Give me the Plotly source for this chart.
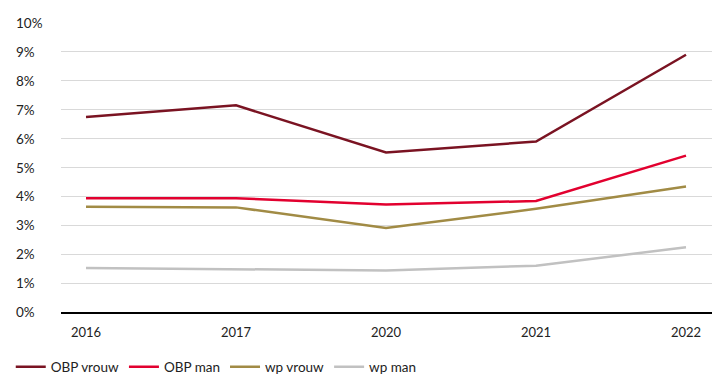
import plotly.graph_objects as go

years = ["2016", "2017", "2020", "2021", "2022"]
obp_vrouw = [6.75, 7.15, 5.52, 5.90, 8.90]
obp_man = [3.94, 3.94, 3.72, 3.84, 5.41]
wp_vrouw = [3.64, 3.62, 2.91, 3.57, 4.34]
wp_man = [1.52, 1.49, 1.44, 1.60, 2.24]
y_ticks = [0, 1, 2, 3, 4, 5, 6, 7, 8, 9, 10]
y_tick_labels = [f"{v}%" for v in y_ticks]

series = [
    ("OBP vrouw", obp_vrouw, "#7a1322"),
    ("OBP man", obp_man, "#e2002f"),
    ("wp vrouw", wp_vrouw, "#a18b45"),
    ("wp man", wp_man, "#c1c1c1"),
]

FONT = "Lato"
fig = go.Figure()
for name, vals, color in series:
    fig.add_trace(go.Scatter(
        x=list(range(len(years))), y=vals, name=name, mode="lines",
        line=dict(color=color, width=2.5),
    ))

annotations = []
for v, lab in zip(y_ticks, y_tick_labels):
    annotations.append(dict(
        x=-0.072, xref="paper", y=v, yref="y", text=lab, showarrow=False,
        xanchor="left", yanchor="middle",
        font=dict(family=FONT, size=13.5, color="#222222"),
    ))

fig.update_layout(
    width=717, height=379,
    margin=dict(l=61, r=5, t=23, b=67),
    paper_bgcolor="white", plot_bgcolor="white",
    font=dict(family=FONT, size=13, color="#222222"),
    showlegend=True,
    legend=dict(
        orientation="h", xref="container", yref="container",
        x=0.015, y=0.032, xanchor="left", yanchor="middle",
        font=dict(family=FONT, size=13.5, color="#222222"),
        itemwidth=30, tracegroupgap=0,
    ),
    xaxis=dict(
        tickmode="array", tickvals=list(range(len(years))), ticktext=years,
        range=[-0.1667, 4.1733], showgrid=False, zeroline=False,
        showline=True, linecolor="#000000", linewidth=1.5,
        ticks="", ticklabelstandoff=8,
        tickfont=dict(family=FONT, size=13, color="#222222"),
    ),
    yaxis=dict(
        range=[0, 10], tickvals=y_ticks, showticklabels=False,
        showgrid=True, gridcolor="#d9d9d9", gridwidth=1,
        zeroline=False, showline=False, ticks="",
    ),
    annotations=annotations,
)

fig.write_html(
    "out.html",
    config={"displayModeBar": False},
    post_script="document.body.style.margin='0';document.body.style.overflow='hidden';",
)
